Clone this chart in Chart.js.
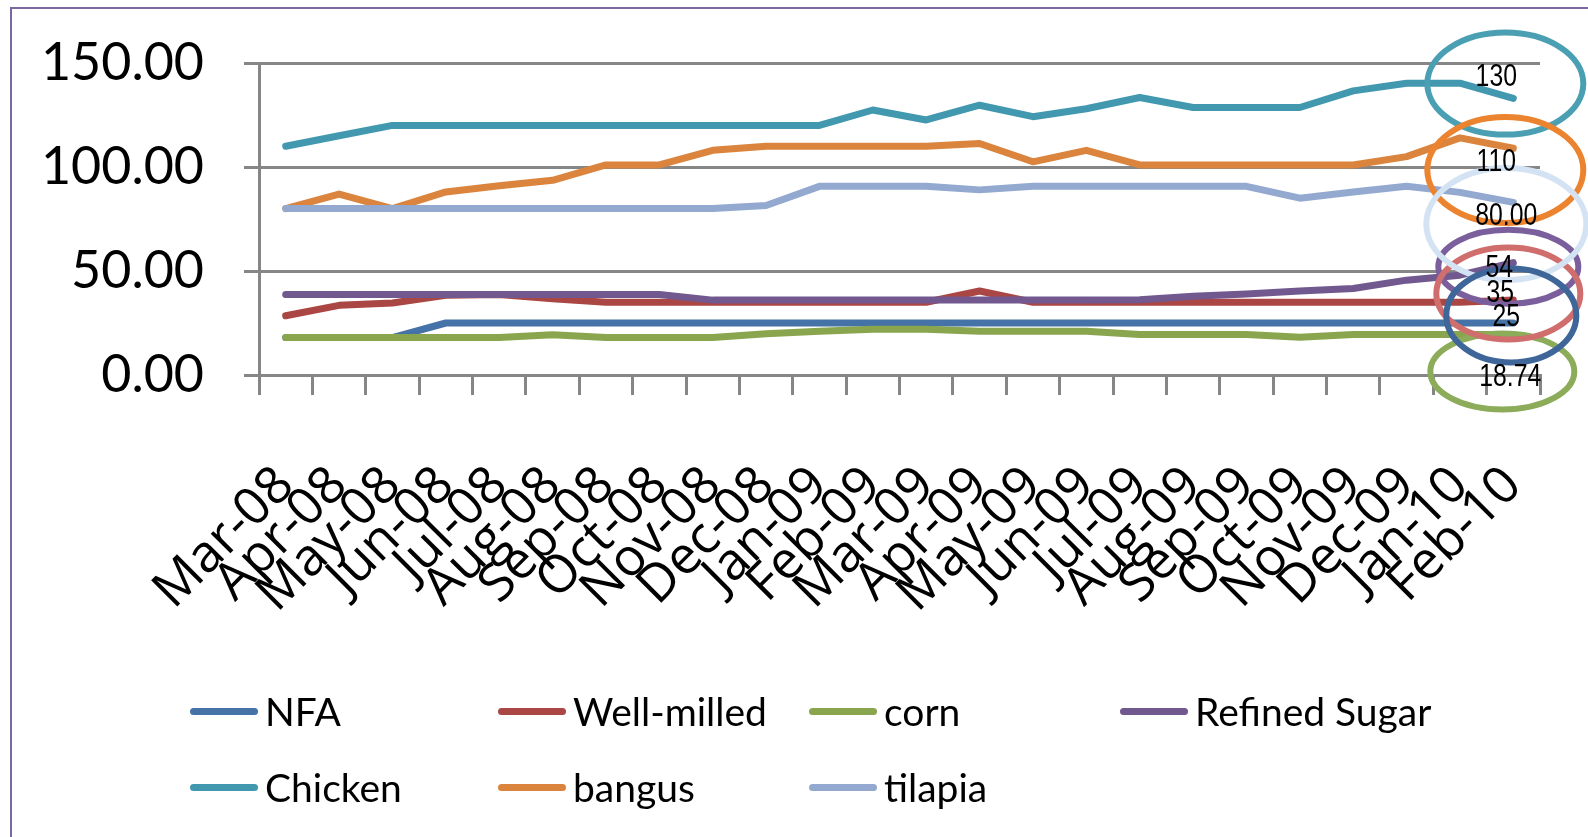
<!DOCTYPE html>
<html>
<head>
<meta charset="utf-8">
<script src="https://cdn.jsdelivr.net/npm/chart.js@4.4.0/dist/chart.umd.min.js"></script>
<style>
  html, body { margin: 0; padding: 0; background: #fff; overflow: hidden; }
  #wrap { position: relative; width: 1588px; height: 837px; }
  #frame { position: absolute; left: 10px; top: 7px; width: 1700px; height: 900px;
           border-left: 2px solid #7a68a0; border-top: 2px solid #7a68a0; }
  #c { position: absolute; left: 0; top: 0; }
  .lg { position: absolute; height: 44px; display: flex; align-items: center;
        font-family: Lato, sans-serif; font-size: 39px; color: #000; white-space: nowrap; }
  .lg span.sw { display: inline-block; width: 68px; height: 7px; border-radius: 3.5px; margin-right: 7px; }
</style>
</head>
<body>
<div id="wrap">
  <div id="frame"></div>
  <canvas id="c" width="1588" height="837"></canvas>
</div>
<script>
var months = ['Mar-08', 'Apr-08', 'May-08', 'Jun-08', 'Jul-08', 'Aug-08', 'Sep-08', 'Oct-08',
    'Nov-08', 'Dec-08', 'Jan-09', 'Feb-09', 'Mar-09', 'Apr-09', 'May-09', 'Jun-09',
    'Jul-09', 'Aug-09', 'Sep-09', 'Oct-09', 'Nov-09', 'Dec-09', 'Jan-10', 'Feb-10'];

var nfa = [18, 18, 18, 25, 25, 25, 25, 25, 25, 25, 25, 25, 25, 25, 25, 25, 25, 25, 25, 25, 25, 25, 25, 25];
var wellMilled = [28.5, 33.5, 34.6, 38.3, 38.7, 36.7, 35, 35, 35, 35, 35, 35, 35, 40.4, 35, 35, 35, 35, 35, 35, 35, 35, 35, 36];
var corn = [18, 18, 18, 18, 18, 19.3, 18, 18, 18, 19.8, 21, 22, 22, 21, 21, 21, 19.5, 19.5, 19.5, 18.2, 19.5, 19.5, 19.5, 19.5];
var refinedSugar = [38.7, 38.7, 38.7, 38.7, 38.7, 38.7, 38.7, 38.7, 36, 36, 36, 36, 36, 36, 36, 36, 36.2, 37.9, 39, 40.4, 41.6, 45.6, 48, 54];
var chicken = [110, 115, 120, 120, 120, 120, 120, 120, 120, 120, 120, 127.4, 122.6, 129.7, 124.2, 128, 133.4, 128.6, 128.6, 128.6, 136.6, 140.3, 140.3, 133];
var bangus = [80, 87, 80, 88, 91, 93.6, 101, 101, 108, 110, 110, 110, 110, 111.3, 102.5, 108, 101, 101, 101, 101, 101, 105, 114, 109];
var tilapia = [80, 80, 80, 80, 80, 80, 80, 80, 80, 81.5, 90.7, 90.7, 90.7, 89, 90.7, 90.7, 90.7, 90.7, 90.7, 85, 88, 90.7, 87.8, 83];

var seriesNames = ['NFA', 'Well-milled', 'corn', 'Refined Sugar', 'Chicken', 'bangus', 'tilapia'];
var seriesData = [nfa, wellMilled, corn, refinedSugar, chicken, bangus, tilapia];
var seriesColors = ['#4572a7', '#aa4643', '#89a54e', '#71588f', '#4198af', '#db843d', '#93a9cf'];

var yTicks = [0, 50, 100, 150];

// callout labels written next to the last month
var calloutText = ['130', '110', '80.00', '54', '35', '25', '18.74'];

// ellipses round the callouts: value centre, dx px, rx px, ry px, colour
var rings = [
    { v: 1.7, dx: -11, rx: 72, ry: 38, c: '#8cac5a' },
    { v: 140.1, dx: -8, rx: 78, ry: 51, c: '#4a9fb3' },
    { v: 98.5, dx: -8, rx: 78, ry: 53, c: '#ec832f' },
    { v: 52, dx: -5, rx: 70, ry: 37, c: '#7a5f9c' },
    { v: 39.2, dx: -5, rx: 72, ry: 46, c: '#d06e6e' },
    { v: 72.6, dx: -7, rx: 80, ry: 56, c: '#d4e3f4' },
    { v: 28.6, dx: -2, rx: 65, ry: 47, c: '#3f6699' }
];
var calloutPos = [
    { v: 143, dx: -17 }, { v: 102, dx: -17 }, { v: 76.4, dx: -7 }, { v: 51.4, dx: -14 },
    { v: 39.4, dx: -13 }, { v: 27.9, dx: -7 }, { v: -1, dx: -3 }
];

var callouts = {
    id: 'callouts',
    afterDraw: function (chart) {
        var ctx = chart.ctx;
        var xs = chart.scales.x, ys = chart.scales.y;
        var px = xs.getPixelForValue(months.length - 1);
        ctx.save();
        rings.forEach(function (r) {
            ctx.beginPath();
            ctx.ellipse(px + r.dx, ys.getPixelForValue(r.v), r.rx, r.ry, 0, 0, Math.PI * 2);
            ctx.strokeStyle = r.c;
            ctx.lineWidth = 6;
            ctx.stroke();
        });
        ctx.fillStyle = '#000';
        ctx.font = '31px "Liberation Sans", sans-serif';
        ctx.textAlign = 'center';
        ctx.textBaseline = 'middle';
        calloutText.forEach(function (t, i) {
            ctx.save();
            ctx.translate(px + calloutPos[i].dx, ys.getPixelForValue(calloutPos[i].v));
            ctx.scale(0.8, 1.0);
            ctx.fillText(t, 0, 0);
            ctx.restore();
        });
        ctx.restore();
    }
};

var datasets = [];
for (let i = 0; i < seriesNames.length; i++) {
    datasets.push({
        label: seriesNames[i],
        data: seriesData[i],
        borderColor: seriesColors[i],
        backgroundColor: seriesColors[i],
        borderWidth: 7,
        pointRadius: 0,
        tension: 0,
        borderJoinStyle: 'round',
        borderCapStyle: 'round',
        order: seriesNames.length - i
    });
}

let lineChart = new Chart('c', {
    type: 'line',
    data: { labels: months, datasets: datasets },
    options: {
        responsive: false,
        animation: false,
        layout: { padding: { left: 10, top: 63, right: 48, bottom: 0 } },
        plugins: { legend: { display: false }, tooltip: { enabled: false } },
        scales: {
            x: {
                offset: true,
                grid: { offset: true, drawOnChartArea: false, color: '#868686', lineWidth: 3, tickLength: 20 },
                border: { display: true, color: '#868686', width: 3 },
                ticks: {
                    autoSkip: false, minRotation: 45, maxRotation: 45, padding: 60,
                    color: '#000', font: { family: 'Open Sans', size: 52 }
                },
                afterFit: function (s) { s.height = 462; s.paddingLeft = 0; s.paddingRight = 0; }
            },
            y: {
                min: 0, max: 150,
                afterBuildTicks: function (s) { s.ticks = yTicks.map(function (v) { return { value: v }; }); },
                grid: { color: '#868686', lineWidth: 3, tickLength: 15 },
                border: { display: true, color: '#868686', width: 3 },
                ticks: {
                    padding: 40, color: '#000', font: { family: 'Lato', size: 52 },
                    callback: function (v) { return v.toFixed(2); }
                },
                afterFit: function (s) { s.width = 249; s.paddingTop = 0; s.paddingBottom = 0; }
            }
        }
    },
    plugins: [callouts]
});

// legend in four columns as in the sheet
var legendCols = [190, 498, 809, 1120];
var legendRows = [689, 765];
var wrap = document.getElementById('wrap');
seriesNames.forEach(function (name, i) {
    var d = document.createElement('div');
    d.className = 'lg';
    d.style.left = legendCols[i % 4] + 'px';
    d.style.top = legendRows[Math.floor(i / 4)] + 'px';
    d.innerHTML = '<span class="sw" style="background:' + seriesColors[i] + '"></span>' + name;
    wrap.appendChild(d);
});
</script>
</body>
</html>
